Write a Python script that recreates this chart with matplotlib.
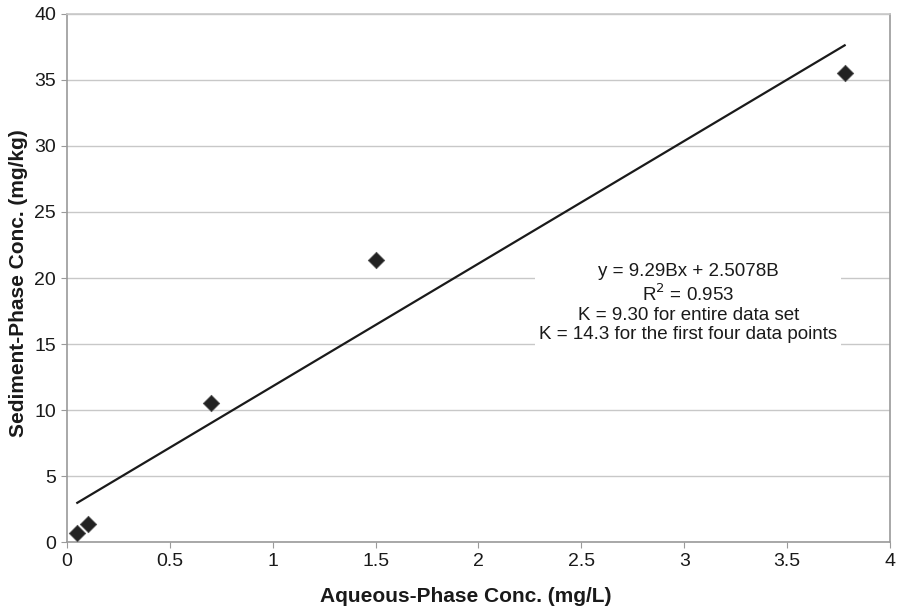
import matplotlib
matplotlib.use("Agg")
import matplotlib.pyplot as plt
import numpy as np

plt.rcParams['font.family'] = ['Liberation Sans', 'DejaVu Sans']

# Measured concentrations
aqueous = [0.05, 0.10, 0.70, 1.50, 3.78]      # mg/L
sediment = [0.7, 1.4, 10.5, 21.4, 35.5]       # mg/kg

# Linear fit reported on the chart
slope = 9.29
intercept = 2.5078
fit_x = [min(aqueous), max(aqueous)]

x_ticks = [0, 0.5, 1, 1.5, 2, 2.5, 3, 3.5, 4]
x_tick_labels = ['0', '0.5', '1', '1.5', '2', '2.5', '3', '3.5', '4']
y_ticks = [0, 5, 10, 15, 20, 25, 30, 35, 40]

annotation = ("y = 9.29Bx + 2.5078B\n"
              "R$^2$ = 0.953\n"
              "K = 9.30 for entire data set\n"
              "K = 14.3 for the first four data points")

fig = plt.figure(figsize=(8.98, 6.07), dpi=100)
ax = fig.add_axes([0.0746, 0.107, 0.9164, 0.870])

ax.set_xlim(0, 4)
ax.set_ylim(0, 40)
ax.set_xticks(x_ticks)
ax.set_xticklabels(x_tick_labels)
ax.set_yticks(y_ticks)

ax.grid(axis='y', color='#c8c8c8', linewidth=1.0)
ax.set_axisbelow(True)
for s in ax.spines.values():
    s.set_color('#9a9a9a')
    s.set_linewidth(1.2)
ax.spines['top'].set_color('#c8c8c8')
ax.tick_params(axis='both', length=4, color='#9a9a9a', labelsize=14,
               labelcolor='#1a1a1a', pad=4)

fit_y = [slope * x + intercept for x in fit_x]
ax.plot(fit_x, fit_y, color='#1a1a1a', linewidth=1.6, zorder=3)

ax.scatter(aqueous, sediment, marker='D', s=70, color='#222222',
           edgecolors='#555555', linewidths=0.6, zorder=4)

ax.text(3.02, 18.1, annotation, ha='center', va='center', fontsize=13.5,
        color='#1a1a1a', linespacing=1.16, zorder=5,
        bbox=dict(facecolor='white', edgecolor='none', pad=3))

ax.set_xlabel('Aqueous-Phase Conc. (mg/L)', fontsize=15, fontweight='bold',
              color='#1a1a1a')
ax.set_ylabel('Sediment-Phase Conc. (mg/kg)', fontsize=15, fontweight='bold',
              color='#1a1a1a')
ax.xaxis.set_label_coords(0.485, -0.085)
ax.yaxis.set_label_coords(-0.047, 0.49)

fig.savefig('out.png', dpi=100)
